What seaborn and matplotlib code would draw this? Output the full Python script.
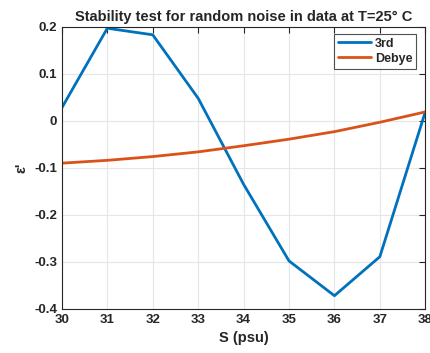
import numpy as np
import pandas as pd
import matplotlib
matplotlib.use("Agg")
import matplotlib.pyplot as plt
import seaborn as sns
from matplotlib.ticker import FuncFormatter

# salinity values and the two fits
salinity = [30, 31, 32, 33, 34, 35, 36, 37, 38]
third = [0.028, 0.197, 0.183, 0.048, -0.135, -0.298, -0.372, -0.289, 0.019]
debye = [-0.090, -0.084, -0.076, -0.066, -0.053, -0.039, -0.023, -0.003, 0.019]
series_names = ["3rd", "Debye"]

df = pd.DataFrame({
    "S": salinity * 2,
    "eps": third + debye,
    "model": [series_names[0]] * len(salinity) + [series_names[1]] * len(salinity),
})

sns.set_style("white")
plt.rcParams["font.family"] = ["Liberation Sans", "DejaVu Sans"]
plt.rcParams["font.weight"] = "bold"

fig = plt.figure(figsize=(4.30, 3.53), dpi=100)
ax = fig.add_axes([0.144, 0.125, 0.845, 0.799])

sns.lineplot(data=df, x="S", y="eps", hue="model",
             palette=["#0072BD", "#D95319"], linewidth=2, ax=ax)

ax.set_xlim(30, 38)
ax.set_ylim(-0.4, 0.2)
ax.set_xticks(np.arange(30, 39, 1))
ax.set_yticks(np.round(np.arange(-0.4, 0.21, 0.1), 1))
ax.yaxis.set_major_formatter(FuncFormatter(lambda v, p: "0" if abs(v) < 1e-9 else f"{v:g}"))
ax.grid(True, color="#e6e6e6", linewidth=0.8)
ax.tick_params(direction="in", length=4, labelsize=9.5, top=True, right=True,
               color="#262626", labelcolor="#262626")
for lbl in ax.get_xticklabels() + ax.get_yticklabels():
    lbl.set_fontweight("bold")
for sp in ax.spines.values():
    sp.set_color("#262626")
    sp.set_linewidth(0.8)

ax.set_xlabel("S (psu)", fontsize=10.5, fontweight="bold", color="#262626")
ax.set_ylabel("ε'", fontsize=10.5, fontweight="bold", color="#262626")
ax.set_title("Stability test for random noise in data at T=25° C",
             fontsize=10.5, fontweight="bold", pad=4)

leg = ax.legend(loc="upper right", fontsize=9, frameon=True, fancybox=False,
                edgecolor="#262626", handlelength=2.6, handletextpad=0.35,
                borderpad=0.3, labelspacing=0.25, borderaxespad=0,
                bbox_to_anchor=(0.975, 0.975))
leg.get_frame().set_linewidth(0.8)
for t in leg.get_texts():
    t.set_fontweight("bold")

fig.savefig("out.png", dpi=100)
